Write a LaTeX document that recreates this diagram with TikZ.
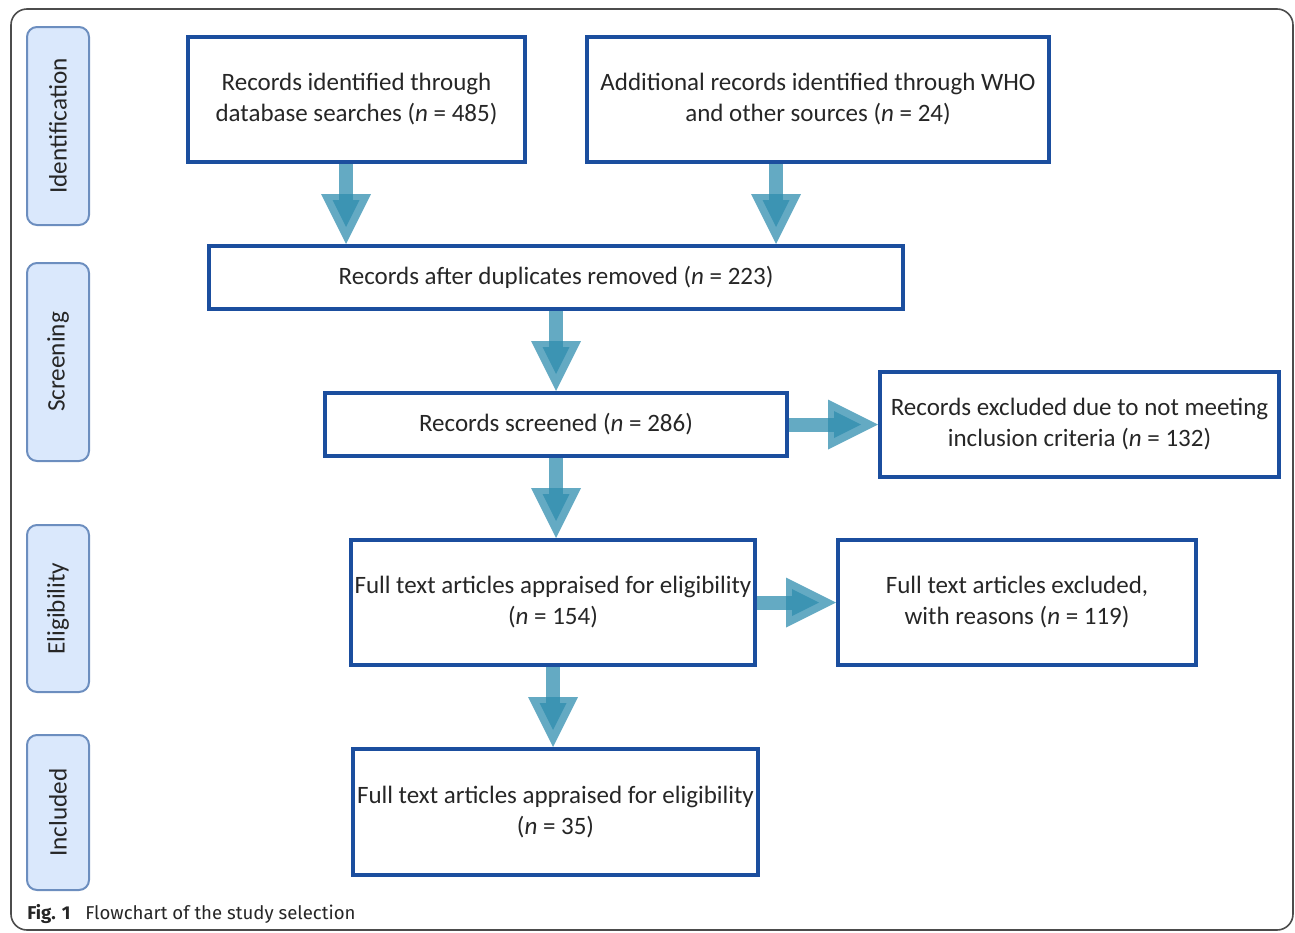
\documentclass[tikz,border=0pt]{standalone}
\usepackage{fontspec}
\setmainfont{Carlito}
\newfontfamily\capfont{Fira Sans}
\usetikzlibrary{decorations.markings}
\definecolor{boxblue}{RGB}{27,78,158}
\definecolor{arrowc}{RGB}{46,140,174}
\definecolor{phasefill}{RGB}{218,232,252}
\definecolor{phaseline}{RGB}{108,142,191}
\begin{document}
\begin{tikzpicture}[x=0.5pt,y=-0.5pt,inner sep=0pt,
recbox/.style={draw=boxblue,rectangle,line width=2pt,align=center,text=black!85,
  font=\fontsize{12.5}{15.5}\selectfont},
phase/.style={draw=phaseline,fill=phasefill,line width=1pt,rounded corners=5pt,rectangle,
  rotate=90,minimum height=31pt,text=black!85,font=\fontsize{12.6}{14}\selectfont},
flow/.style={draw=arrowc,draw opacity=.74,line width=7pt,shorten >=22pt,
  postaction={decorate,decoration={markings,
    mark=at position -25pt with {\fill[arrowc,fill opacity=.74] (0pt,12.5pt) -- (25pt,0pt) -- (0pt,-12.5pt) -- cycle;},
    mark=at position -22pt with {\fill[arrowc,fill opacity=.74] (0pt,6.75pt) -- (13.5pt,0pt) -- (0pt,-6.75pt) -- cycle;}}}}]
\useasboundingbox (0,0) rectangle (1295,932);
\draw[black!70,line width=0.8pt,rounded corners=8pt] (11,9) rectangle (1293,930);
% phases
\draw (58,126) node[phase,minimum width=99pt] (ident) {Identification};
\draw (58,362) node[phase,minimum width=99pt] (scr) {Screening};
\draw (58,608.5) node[phase,minimum width=83.5pt] (elig) {Eligibility};
\draw (58,812.5) node[phase,minimum width=77.5pt] (inc) {Included};
% boxes
\draw (356.5,99.5) node[recbox,minimum width=168.5pt,minimum height=62.5pt] (db) {Records identified through\\database searches (\textit{n} = 485)};
\draw (818,99.5) node[recbox,minimum width=231pt,minimum height=62.5pt] (other) {Additional records identified through WHO\\and other sources (\textit{n} = 24)};
\draw (556,277.5) node[recbox,minimum width=347pt,minimum height=31.5pt] (dedup) {Records after duplicates removed (\textit{n} = 223)};
\draw (556,424.5) node[recbox,minimum width=231pt,minimum height=31.5pt] (screen) {Records screened (\textit{n} = 286)};
\draw (1079.5,424.5) node[recbox,minimum width=199.5pt,minimum height=52.5pt] (excl) {Records excluded due to not meeting\\inclusion criteria (\textit{n} = 132)};
\draw (553,602.5) node[recbox,minimum width=202pt,minimum height=62.5pt] (full) {Full text articles appraised for eligibility\\(\textit{n} = 154)};
\draw (1017,602.5) node[recbox,minimum width=179pt,minimum height=62.5pt] (fullex) {Full text articles excluded,\\with reasons (\textit{n} = 119)};
\draw (555.5,812) node[recbox,minimum width=202.5pt,minimum height=63pt] (incl) {Full text articles appraised for eligibility\\(\textit{n} = 35)};
% arrows
\draw[flow] ([xshift=-5.25pt]db.south) -- ([xshift=-5.25pt]db.south |- dedup.north);
\draw[flow] ([xshift=-21pt]other.south) -- ([xshift=-21pt]other.south |- dedup.north);
\draw[flow] (dedup.south) -- (screen.north);
\draw[flow] (screen.south) -- (screen.south |- full.north);
\draw[flow] (screen.east) -- (screen.east -| excl.west);
\draw[flow] (full.south) -- (full.south |- incl.north);
\draw[flow] (full.east) -- (full.east -| fullex.west);
\draw (27,919) node[anchor=base west,text=black!85,font=\capfont\fontsize{9.3}{11}\selectfont] (cap) {\textbf{Fig. 1}\hspace{0.8em}Flowchart of the study selection};
\end{tikzpicture}
\end{document}
